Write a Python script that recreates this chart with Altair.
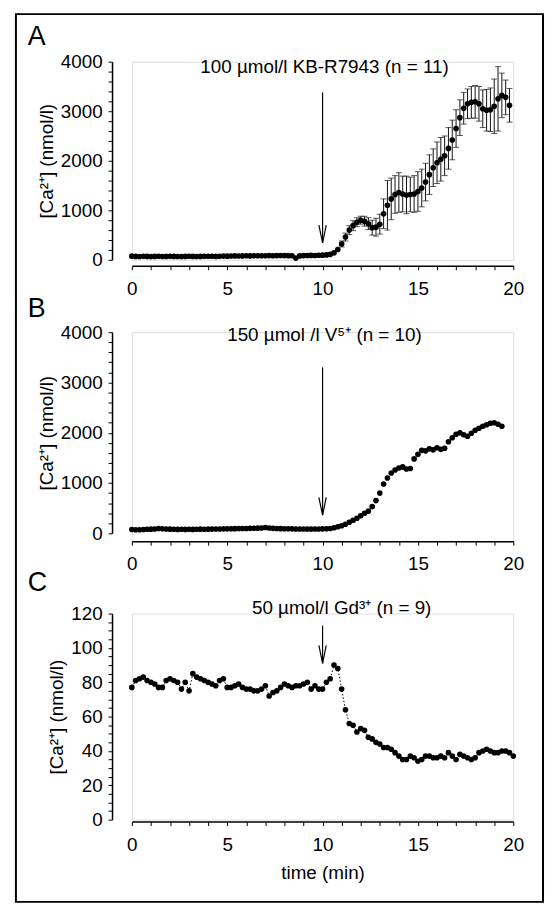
import altair as alt
import pandas as pd

# ---------------- data ----------------
time_min = [0.0, 0.2, 0.4, 0.6, 0.8, 1.0, 1.2, 1.4, 1.6, 1.8,
            2.0, 2.2, 2.4, 2.6, 2.8, 3.0, 3.2, 3.4, 3.6, 3.8,
            4.0, 4.2, 4.4, 4.6, 4.8, 5.0, 5.2, 5.4, 5.6, 5.8,
            6.0, 6.2, 6.4, 6.6, 6.8, 7.0, 7.2, 7.4, 7.6, 7.8,
            8.0, 8.2, 8.4, 8.6, 8.8, 9.0, 9.2, 9.4, 9.6, 9.8,
            10.0, 10.2, 10.4, 10.6, 10.8, 11.0, 11.2, 11.4, 11.6, 11.8,
            12.0, 12.2, 12.4, 12.6, 12.8, 13.0, 13.2, 13.4, 13.6, 13.8,
            14.0, 14.2, 14.4, 14.6, 14.8, 15.0, 15.2, 15.4, 15.6, 15.8,
            16.0, 16.2, 16.4, 16.6, 16.8, 17.0, 17.2, 17.4, 17.6, 17.8,
            18.0, 18.2, 18.4, 18.6, 18.8, 19.0, 19.2, 19.4, 19.6, 19.8,
            20.0]

# Panel A: 100 umol/l KB-R7943 (mean, SEM)
ca_a = [75, 70, 68, 72, 70, 66, 70, 72, 68, 70,
        72, 70, 68, 66, 70, 72, 70, 68, 70, 72,
        74, 72, 70, 74, 76, 75, 78, 80, 78, 80,
        82, 80, 82, 84, 82, 84, 86, 84, 86, 88,
        86, 85, 84, 35, 80, 86, 88, 90, 88, 92,
        95, 100, 110, 140, 210, 320, 460, 600, 690, 760,
        800, 780, 730, 650, 660, 720, 930, 1100, 1230, 1320,
        1360, 1330, 1310, 1320, 1330, 1380, 1450, 1570, 1720, 1860,
        1960, 2030, 2100, 2250, 2420, 2650, 2870, 3060, 3150, 3180,
        3190, 3150, 3050, 3020, 3030, 3100, 3250, 3320, 3280, 3120]
sem_a = [0, 0, 0, 0, 0, 0, 0, 0, 0, 0,
         0, 0, 0, 0, 0, 0, 0, 0, 0, 0,
         0, 0, 0, 0, 0, 0, 0, 0, 0, 0,
         0, 0, 0, 0, 0, 0, 0, 0, 0, 0,
         0, 0, 0, 0, 0, 0, 0, 0, 0, 0,
         30, 0, 0, 0, 0, 60, 80, 90, 100, 90,
         80, 100, 120, 150, 180, 200, 300, 500, 420, 380,
         400, 360, 380, 350, 370, 400, 380, 380, 400, 380,
         420, 440, 400, 420, 400, 380, 360, 320, 300, 320,
         330, 350, 380, 420, 440, 550, 650, 450, 350, 340]

# Panel B: 150 umol/l V5+
ca_b = [75, 70, 72, 75, 80, 82, 85, 95, 90, 85,
        82, 80, 78, 80, 78, 80, 78, 80, 82, 80,
        82, 84, 85, 86, 88, 88, 90, 92, 94, 95,
        96, 98, 100, 102, 105, 115, 105, 98, 95, 92,
        90, 90, 88, 86, 85, 86, 85, 84, 85, 86,
        88, 90, 95, 110, 130, 150, 180, 220, 260, 300,
        350, 400, 440, 530, 650, 800, 980, 1100, 1200, 1260,
        1300, 1320, 1280, 1290, 1480, 1570, 1650, 1640, 1680, 1660,
        1700, 1670, 1690, 1820, 1900, 1970, 2000, 1960, 1930, 1990,
        2050, 2090, 2130, 2160, 2190, 2200, 2170, 2130]

# Panel C: 50 umol/l Gd3+
ca_c = [77, 81, 82, 83, 81, 80, 79, 77, 77, 81,
        82, 81, 80, 76, 80, 75, 85, 83, 82, 81,
        80, 79, 78, 81, 82, 77, 77, 78, 79, 77,
        76, 76, 75, 75, 76, 78, 72, 74, 75, 77,
        79, 78, 77, 78, 78, 79, 80, 76, 78, 76,
        76, 80, 82, 90, 88, 76, 64, 56, 55, 51,
        53, 52, 48, 47, 45, 44, 42, 42, 41, 39,
        37, 35, 35, 37, 36, 34, 35, 37, 37, 36,
        36, 37, 36, 39, 37, 35, 38, 37, 36, 35,
        36, 39, 40, 41, 40, 39, 39, 40, 40, 39,
        37]

panel_letters = ["A", "B", "C"]
annotations = ["100 µmol/l KB-R7943 (n = 11)", "150 µmol /l V⁵⁺ (n = 10)", "50 µmol/l Gd³⁺ (n = 9)"]
annot_x = [10.1, 10.1, 11.0]
annot_y = [3900, 3950, 123]
arrow_top = [3380, 3300, 113]
arrow_tip = [340, 360, 91]
y_title = "[Ca²⁺] (nmol/l)"
x_title = "time (min)"

# tick positions (all ticks; labels only on the major ones)
x_ticks = [0, 1, 2, 3, 4, 5, 6, 7, 8, 9, 10, 11, 12, 13, 14, 15, 16, 17, 18, 19, 20]
y_ticks_ab = [0, 200, 400, 600, 800, 1000, 1200, 1400, 1600, 1800, 2000, 2200, 2400,
              2600, 2800, 3000, 3200, 3400, 3600, 3800, 4000]
y_ticks_c = [0, 5, 10, 15, 20, 25, 30, 35, 40, 45, 50, 55, 60, 65, 70, 75, 80, 85, 90,
             95, 100, 105, 110, 115, 120]

# ---------------- styling ----------------
FONT = "Liberation Sans"
FS = 19
W = 385
TICK = 4
ARROW = "M -0.45 -2.2 L 0 0 L 0.45 -2.2"


def x_axis(offset, title):
    kw = dict(values=x_ticks, tickCount=100,
              labelExpr="datum.value % 5 == 0 ? datum.label : ''",
              labelOverlap=False,
              tickSize=TICK, labelPadding=10, offset=offset, grid=False,
              domainColor="black", domainWidth=1.5, tickColor="black",
              labelColor="black", labelFont=FONT, labelFontSize=FS,
              labelFlush=False, format="d")
    if title:
        kw.update(title=title, titleFont=FONT, titleFontSize=FS,
                  titleFontWeight="normal", titleColor="black", titlePadding=9)
    else:
        kw.update(title=None)
    return alt.Axis(**kw)


def y_axis(values, major):
    return alt.Axis(values=values, tickCount=100, format="d",
                    labelExpr=f"datum.value % {major} == 0 ? datum.label : ''",
                    labelOverlap=False,
                    tickSize=TICK, labelPadding=6, offset=20, grid=False,
                    domainColor="black", domainWidth=1.5, tickColor="black",
                    labelColor="black", labelFont=FONT, labelFontSize=FS,
                    title=y_title, titleFont=FONT, titleFontSize=FS,
                    titleFontWeight="normal", titleColor="black", titlePadding=4)


def panel(idx, times, vals, ydom, yrange, yvals, major, height, xoff, xtitle,
          letter_y, sems=None, border=False, connect=False):
    df = pd.DataFrame({"t": times, "v": vals})
    xs = alt.Scale(domain=[0, 20], nice=False, zero=False)
    ys = alt.Scale(domain=ydom, range=yrange, nice=False)
    X = alt.X("t:Q", scale=xs, axis=x_axis(xoff, xtitle))
    Y = alt.Y("v:Q", scale=ys, axis=y_axis(yvals, major))
    Xp = alt.X("t:Q", scale=xs)
    Yp = alt.Y("v:Q", scale=ys)

    layers = []
    if border:
        layers.append(
            alt.Chart(alt.Data(values=[{"k": 1}])).mark_rect(
                fillOpacity=0, stroke="black", strokeWidth=2
            ).encode(x=alt.value(-117), x2=alt.value(415),
                     y=alt.value(-48), y2=alt.value(848))
        )
    if connect:
        layers.append(
            alt.Chart(df).mark_line(color="black", strokeWidth=1,
                                    strokeDash=[1.5, 2]).encode(x=Xp, y=Yp)
        )
    if sems is not None:
        e = pd.DataFrame({"t": times, "lo": [v - s for v, s in zip(vals, sems)],
                          "hi": [v + s for v, s in zip(vals, sems)], "s": sems})
        e = e[e["s"] > 0]
        layers.append(
            alt.Chart(e).mark_rule(color="#111", strokeWidth=1).encode(
                x=Xp, y=alt.Y("lo:Q", scale=ys), y2="hi:Q")
        )
        for col in ["lo", "hi"]:
            layers.append(
                alt.Chart(e).mark_tick(color="#111", orient="horizontal",
                                       size=6, thickness=1).encode(
                    x=Xp, y=alt.Y(f"{col}:Q", scale=ys))
            )
    layers.append(
        alt.Chart(df).mark_circle(color="black", opacity=1, size=32).encode(x=X, y=Y)
    )
    arr = pd.DataFrame({"t": [10.0], "top": [arrow_top[idx]], "tip": [arrow_tip[idx]]})
    layers.append(
        alt.Chart(arr).mark_rule(color="black", strokeWidth=1.2).encode(
            x=Xp, y=alt.Y("top:Q", scale=ys), y2="tip:Q")
    )
    layers.append(
        alt.Chart(arr).mark_point(shape=ARROW, size=270, filled=False,
                                  color="black", strokeWidth=1.2, opacity=1).encode(
            x=Xp, y=alt.Y("tip:Q", scale=ys))
    )
    ann = pd.DataFrame({"t": [annot_x[idx]], "v": [annot_y[idx]], "txt": [annotations[idx]]})
    layers.append(
        alt.Chart(ann).mark_text(font=FONT, fontSize=FS, color="black",
                                 align="center", baseline="middle").encode(
            x=Xp, y=Yp, text="txt:N")
    )
    layers.append(
        alt.Chart(alt.Data(values=[{"L": panel_letters[idx]}])).mark_text(
            font=FONT, fontSize=27, color="black", align="left", baseline="middle"
        ).encode(x=alt.value(-105), y=alt.value(letter_y), text="L:N")
    )
    return alt.layer(*layers).properties(width=W, height=height)


# plot areas: A 200 px tall, B 211 px (value range 203 px), C 208 px; 73 px between
pa = panel(0, time_min[:len(ca_a)], ca_a, [0, 4000], [200, 0], y_ticks_ab, 1000,
           200, 6, None, -25, sems=sem_a, border=True)
pb = panel(1, time_min[:len(ca_b)], ca_b, [0, 4000], [203, 0], y_ticks_ab, 1000,
           211, 0, None, -23)
pc = panel(2, time_min[:len(ca_c)], ca_c, [0, 120], [208, 0], y_ticks_c, 20,
           208, 2, x_title, -31, connect=True)

chart = alt.vconcat(pa, pb, pc, spacing=73, bounds="flush").properties(
    padding={"left": 6, "top": 0, "right": 0, "bottom": 0}
).resolve_scale(y="independent", x="independent").configure_view(
    strokeOpacity=0
).configure_axis(titleFontWeight="normal").configure(background="white")

chart.save("out.html", embed_options={"renderer": "svg", "actions": False})
